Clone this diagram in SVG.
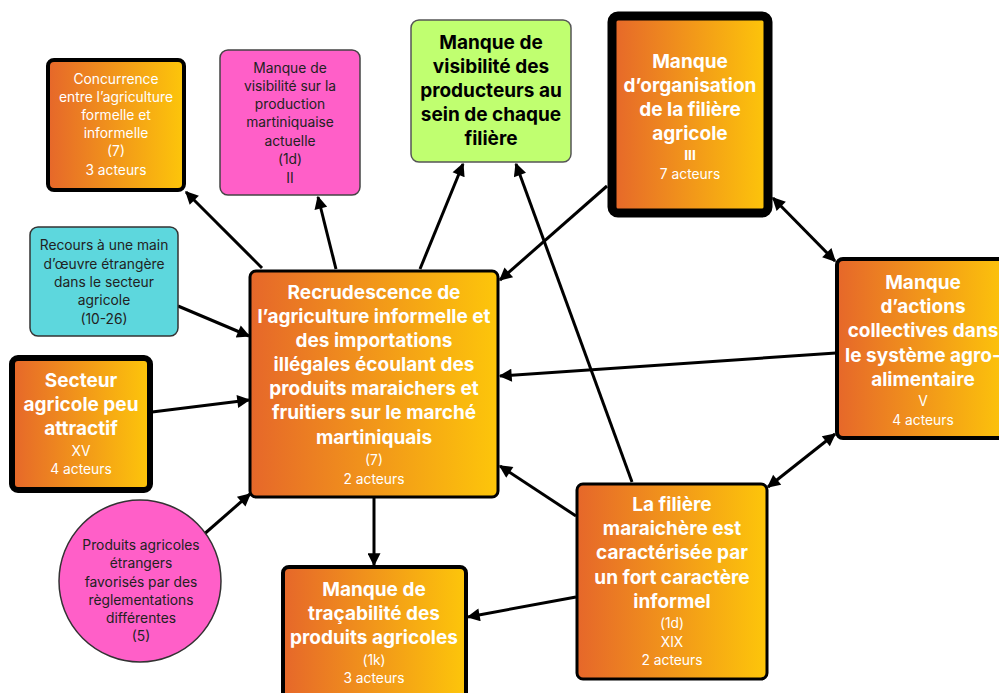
<svg xmlns="http://www.w3.org/2000/svg" width="999" height="693" viewBox="0 0 999 693">
<style>
.g{fill:url(#og);stroke:#000}
.b{font-family:Inter,"Liberation Sans",sans-serif;font-weight:700;font-size:19px;fill:#fff;text-anchor:middle}
.n{font-family:Inter,"Liberation Sans",sans-serif;font-weight:400;font-size:13.8px;fill:#fff;text-anchor:middle}
.d{font-family:Inter,"Liberation Sans",sans-serif;font-weight:400;font-size:13.8px;fill:#222;text-anchor:middle}
.bk{font-family:Inter,"Liberation Sans",sans-serif;font-weight:700;font-size:19px;fill:#000;text-anchor:middle}
.c line{stroke:#000;stroke-width:3;marker-end:url(#ah)}
.c line.dbl{marker-start:url(#ah)}
</style>
<defs>
<linearGradient id="og" x1="0" y1="0" x2="1" y2="0">
<stop offset="0" stop-color="#E6672A"/>
<stop offset="1" stop-color="#FDC60A"/>
</linearGradient>
<marker id="ah" viewBox="0 0 10 10" refX="9" refY="5" markerWidth="15" markerHeight="13" markerUnits="userSpaceOnUse" orient="auto-start-reverse">
<path d="M0,0 L10,5 L0,10 z" fill="#000"/>
</marker>
</defs>
<rect width="999" height="693" fill="#fff"/>
<g class="c" id="connectors">
<line x1="262" y1="268" x2="186" y2="192"/>
<line x1="336" y1="269" x2="318" y2="197"/>
<line x1="420" y1="269" x2="463" y2="164"/>
<line x1="178" y1="306" x2="249" y2="336"/>
<line x1="152" y1="412" x2="249" y2="400"/>
<line x1="202" y1="536" x2="250" y2="494"/>
<line x1="607" y1="186" x2="500" y2="280"/>
<line x1="836" y1="353" x2="500" y2="376"/>
<line x1="576" y1="516" x2="500" y2="466"/>
<line x1="632" y1="482" x2="516" y2="164"/>
<line x1="374" y1="498" x2="374" y2="565"/>
<line x1="576" y1="597" x2="468" y2="617"/>
<line class="dbl" x1="773" y1="198" x2="835" y2="261"/>
<line class="dbl" x1="768" y1="487" x2="835" y2="434"/>
</g>
<g id="concurrence">
<rect class="g" x="48" y="60" width="136" height="130" rx="6" stroke-width="4"/>
<text class="n"><tspan x="116" y="84">Concurrence</tspan><tspan x="116" y="102">entre l’agriculture</tspan><tspan x="116" y="120">formelle et</tspan><tspan x="116" y="138">informelle</tspan><tspan x="116" y="156">(7)</tspan><tspan x="116" y="175">3 acteurs</tspan></text>
</g>
<g id="visibilite-production">
<rect x="220" y="50" width="140" height="145" rx="8" fill="#FF5FC8" stroke="#444" stroke-width="1.5"/>
<text class="d"><tspan x="290" y="73">Manque de</tspan><tspan x="290" y="91">visibilité sur la</tspan><tspan x="290" y="109">production</tspan><tspan x="290" y="127">martiniquaise</tspan><tspan x="290" y="146">actuelle</tspan><tspan x="290" y="164">(1d)</tspan><tspan x="290" y="183">II</tspan></text>
</g>
<g id="visibilite-producteurs">
<rect x="411" y="20" width="160" height="142" rx="8" fill="#C0FF70" stroke="#555" stroke-width="1.5"/>
<text class="bk"><tspan x="491" y="49">Manque de</tspan><tspan x="491" y="73">visibilité des</tspan><tspan x="491" y="97">producteurs au</tspan><tspan x="491" y="121">sein de chaque</tspan><tspan x="491" y="145">filière</tspan></text>
</g>
<g id="organisation">
<rect class="g" x="612" y="16" width="156" height="197" rx="6" stroke-width="9"/>
<text class="b"><tspan x="690" y="68">Manque</tspan><tspan x="690" y="92">d’organisation</tspan><tspan x="690" y="116">de la filière</tspan><tspan x="690" y="140">agricole</tspan></text>
<text class="n"><tspan x="690" y="160" font-weight="700">III</tspan></text>
<text class="n"><tspan x="690" y="179">7 acteurs</tspan></text>
</g>
<g id="actions-collectives">
<rect class="g" x="837" y="259" width="172" height="179" rx="6" stroke-width="4"/>
<text class="b"><tspan x="923" y="289">Manque</tspan><tspan x="923" y="313">d’actions</tspan><tspan x="923" y="337">collectives dans</tspan><tspan x="923" y="362">le système agro-</tspan><tspan x="923" y="386">alimentaire</tspan></text>
<text class="n"><tspan x="923" y="406">V</tspan><tspan x="923" y="425">4 acteurs</tspan></text>
</g>
<g id="recrudescence">
<rect class="g" x="250" y="271" width="248" height="226" rx="6" stroke-width="3"/>
<text class="b"><tspan x="374" y="299">Recrudescence de</tspan><tspan x="374" y="323">l’agriculture informelle et</tspan><tspan x="374" y="347">des importations</tspan><tspan x="374" y="371">illégales écoulant des</tspan><tspan x="374" y="395">produits maraichers et</tspan><tspan x="374" y="419">fruitiers sur le marché</tspan><tspan x="374" y="444">martiniquais</tspan></text>
<text class="n"><tspan x="374" y="465">(7)</tspan><tspan x="374" y="484">2 acteurs</tspan></text>
</g>
<g id="recours">
<rect x="30" y="227" width="148" height="109" rx="8" fill="#5DD7DD" stroke="#333" stroke-width="1.5"/>
<text class="d"><tspan x="104" y="250">Recours à une main</tspan><tspan x="104" y="269">d’œuvre étrangère</tspan><tspan x="104" y="287">dans le secteur</tspan><tspan x="104" y="305">agricole</tspan><tspan x="104" y="324">(10-26)</tspan></text>
</g>
<g id="secteur">
<rect class="g" x="12" y="358" width="138" height="132" rx="6" stroke-width="6"/>
<text class="b"><tspan x="81" y="387">Secteur</tspan><tspan x="81" y="411">agricole peu</tspan><tspan x="81" y="435">attractif</tspan></text>
<text class="n"><tspan x="81" y="456">XV</tspan><tspan x="81" y="474">4 acteurs</tspan></text>
</g>
<g id="produits-etrangers">
<circle cx="140" cy="581" r="81" fill="#FF5FC8" stroke="#333" stroke-width="1.5"/>
<text class="d"><tspan x="141" y="550">Produits agricoles</tspan><tspan x="141" y="568">étrangers</tspan><tspan x="141" y="587">favorisés par des</tspan><tspan x="141" y="605">règlementations</tspan><tspan x="141" y="623">différentes</tspan><tspan x="141" y="641">(5)</tspan></text>
</g>
<g id="tracabilite">
<rect class="g" x="283" y="567" width="183" height="140" rx="6" stroke-width="4"/>
<text class="b"><tspan x="374" y="596">Manque de</tspan><tspan x="374" y="620">traçabilité des</tspan><tspan x="374" y="644">produits agricoles</tspan></text>
<text class="n"><tspan x="374" y="665">(1k)</tspan><tspan x="374" y="683">3 acteurs</tspan></text>
</g>
<g id="filiere-maraichere">
<rect class="g" x="577" y="484" width="190" height="195" rx="6" stroke-width="3"/>
<text class="b"><tspan x="672" y="511">La filière</tspan><tspan x="672" y="535">maraichère est</tspan><tspan x="672" y="559">caractérisée par</tspan><tspan x="672" y="584">un fort caractère</tspan><tspan x="672" y="608">informel</tspan></text>
<text class="n"><tspan x="672" y="628">(1d)</tspan><tspan x="672" y="647">XIX</tspan><tspan x="672" y="665">2 acteurs</tspan></text>
</g>
</svg>
